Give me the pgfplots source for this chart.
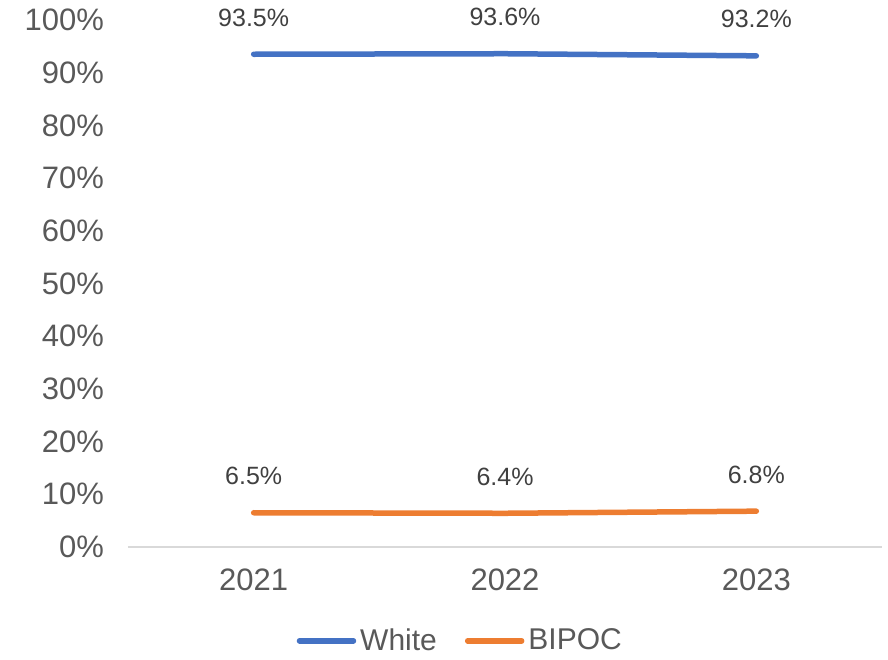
\documentclass[border=0pt]{standalone}
\usepackage{pgfplots}
\pgfplotsset{compat=1.18}
\usepackage{fontspec}
\setmainfont{Liberation Sans}
\definecolor{serA}{HTML}{4472C4}
\definecolor{serB}{HTML}{ED7D31}
\definecolor{txt}{HTML}{595959}
\definecolor{lbl}{HTML}{404040}
\definecolor{axl}{HTML}{D9D9D9}
\begin{document}
\begin{tikzpicture}
\begin{axis}[
    name=ax,
    scale only axis,
    width=377pt, height=263.5pt,
    xmin=-0.5, xmax=2.5,
    ymin=0, ymax=100,
    axis y line*=left,
    y axis line style={draw=none},
    axis x line*=bottom,
    x axis line style={axl, line width=0.75pt, -},
    xtick={0,1,2},
    xticklabels={2021,2022,2023},
    ytick={0,10,...,100},
    yticklabels={0\%,10\%,20\%,30\%,40\%,50\%,60\%,70\%,80\%,90\%,100\%},
    major tick length=0pt,
    tick label style={font=\fontsize{15.5}{18}\selectfont, text=txt},
    xticklabel style={yshift=-7.5pt},
    yticklabel style={xshift=-8.5pt},
    /pgf/number format/assume math mode=true,
    clip=false,
    nodes near coords,
    point meta=explicit symbolic,
    every node near coord/.append style={font=\fontsize{12.5}{15}\selectfont, text=lbl, anchor=south, inner sep=0pt, yshift=12.5pt},
    legend columns=2,
    legend style={draw=none, fill=none, at={(0.442,-0.178)}, anchor=center,
        font=\fontsize{15}{18}\selectfont, text=txt,
        /tikz/every even column/.append style={column sep=12pt}},
    legend image code/.code={\draw[#1, line width=2.75pt, line cap=round] (0pt,0pt) -- (27pt,0pt);},
]
\addplot[serA, line width=2.75pt, line cap=round] coordinates {
    (0,93.5) [93.5\%]
    (1,93.6) [93.6\%]
    (2,93.2) [93.2\%]
};
\addlegendentry{White}
\addplot[serB, line width=2.75pt, line cap=round] coordinates {
    (0,6.5) [6.5\%]
    (1,6.4) [6.4\%]
    (2,6.8) [6.8\%]
};
\addlegendentry{BIPOC}
\end{axis}
\pgfresetboundingbox
\path[use as bounding box] ([xshift=-64pt,yshift=-56pt]ax.south west) rectangle ([xshift=3pt,yshift=10pt]ax.north east);
\end{tikzpicture}
\end{document}
